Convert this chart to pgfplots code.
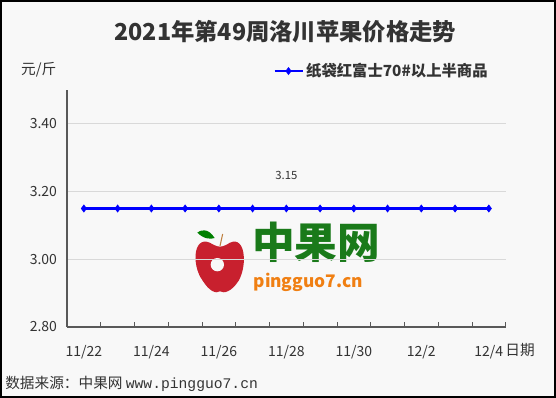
\documentclass[border=0pt]{standalone}
\usepackage{pgfplots}
\pgfplotsset{compat=1.18}
\usepackage{fontspec}
\setmainfont{Noto Sans CJK SC}
\newfontfamily\monofont{Liberation Mono}
\definecolor{bg}{HTML}{F8F8F8}
\definecolor{txt}{HTML}{333333}
\definecolor{gridc}{HTML}{D9D9D9}
\definecolor{axc}{HTML}{595959}
\definecolor{wmgreen}{HTML}{1A7A1A}
\definecolor{wmorange}{HTML}{F07F12}
\definecolor{applered}{HTML}{C8202E}
\begin{document}
\begin{tikzpicture}
\draw[black, line width=1.2pt, fill=bg] (0.6pt,0.6pt) rectangle (416.4pt,297.9pt);
% watermark
\fill[applered] (160pt,115pt) .. controls (145pt,125pt) and (143pt,100pt) .. (152pt,88pt)
  .. controls (157pt,80pt) and (162pt,78pt) .. (165pt,80pt)
  .. controls (168pt,78pt) and (174pt,80pt) .. (179pt,88pt)
  .. controls (186pt,100pt) and (184pt,125pt) .. (170pt,115pt)
  .. controls (166pt,113pt) and (164pt,113pt) .. cycle;
\fill[bg] (163pt,100pt) circle (5pt);
\fill[green!50!black] (161pt,120pt) .. controls (156pt,128pt) and (150pt,126pt) .. (148pt,124pt) .. controls (153pt,119pt) and (158pt,119pt) .. cycle;
\draw[brown, line width=0.8pt] (165pt,114pt) -- (167pt,123pt);
\node[anchor=west, text=wmgreen, font=\fontsize{32}{34}\selectfont\bfseries, inner sep=0pt] at (189pt,117pt) {中果网};
\node[anchor=west, text=wmorange, font=\fontsize{13}{15}\selectfont\bfseries\itshape, inner sep=0pt] at (190pt,87pt) {pingguo7.cn};
\begin{axis}[
  at={(50.25pt,53.25pt)}, anchor=south west,
  scale only axis, width=329pt, height=177.75pt,
  xmin=-0.5, xmax=12.5, ymin=2.8, ymax=3.5,
  axis x line*=bottom, axis y line*=left,
  axis line style={-, axc, line width=0.8pt},
  ytick={2.8,3.0,3.2,3.4},
  /pgf/number format/fixed, /pgf/number format/fixed zerofill, /pgf/number format/precision=2,
  ytick style={draw=none},
  ymajorgrids, grid style={gridc, line width=0.6pt},
  xtick={0,2,4,6,8,10,12},
  xticklabels={11/22,11/24,11/26,11/28,11/30,12/2,12/4},
  xtick style={draw=none},
  extra x ticks={-0.5,0.5,...,12.5},
  extra x tick labels={},
  extra x tick style={xtick style={draw=axc, line width=0.6pt}, major tick length=4pt, tick align=inside, grid=none},
  tick label style={font=\fontsize{10.5}{12}\selectfont, text=txt},
  xticklabel style={yshift=-10pt},
  yticklabel style={xshift=-4pt},
  /pgf/number format/assume math mode=true,
  legend style={at={(0.47,1.08)}, anchor=west, draw=none, fill=none, inner sep=0pt,
    font=\fontsize{11.5}{13}\selectfont\bfseries, text=txt},
  legend image code/.code={\draw[mark repeat=2,mark phase=2,#1] plot coordinates {(0pt,0pt) (10.5pt,0pt) (21pt,0pt)};},
  clip=false,
]
\addplot[blue, line width=1.6pt, mark=diamond*, mark size=2.6pt, mark options={fill=blue, line width=0.5pt}]
  coordinates {(0,3.15) (1,3.15) (2,3.15) (3,3.15) (4,3.15) (5,3.15) (6,3.15) (7,3.15) (8,3.15) (9,3.15) (10,3.15) (11,3.15) (12,3.15)};
\addlegendentry{纸袋红富士70\#以上半商品}
\addplot[draw=none, mark=none, nodes near coords, point meta=explicit symbolic,
  every node near coord/.append style={font=\fontsize{8.5}{10}\selectfont, text=txt, yshift=18pt}, forget plot]
  coordinates {(6,3.15) [3.15]};
\end{axis}
\node[text=txt, font=\fontsize{17.5}{20}\selectfont\bfseries] at (214pt,274.5pt) {2021年第49周洛川苹果价格走势};
\node[text=txt, font=\fontsize{11}{13}\selectfont] at (29pt,246pt) {元/斤};
\node[text=txt, font=\fontsize{11}{13}\selectfont] at (390pt,36pt) {日期};
\node[anchor=west, text=txt, font=\fontsize{11}{13}\selectfont, inner sep=0pt] at (3.75pt,10.5pt) {数据来源：中果网 {\monofont www.pingguo7.cn}};
\end{tikzpicture}
\end{document}
